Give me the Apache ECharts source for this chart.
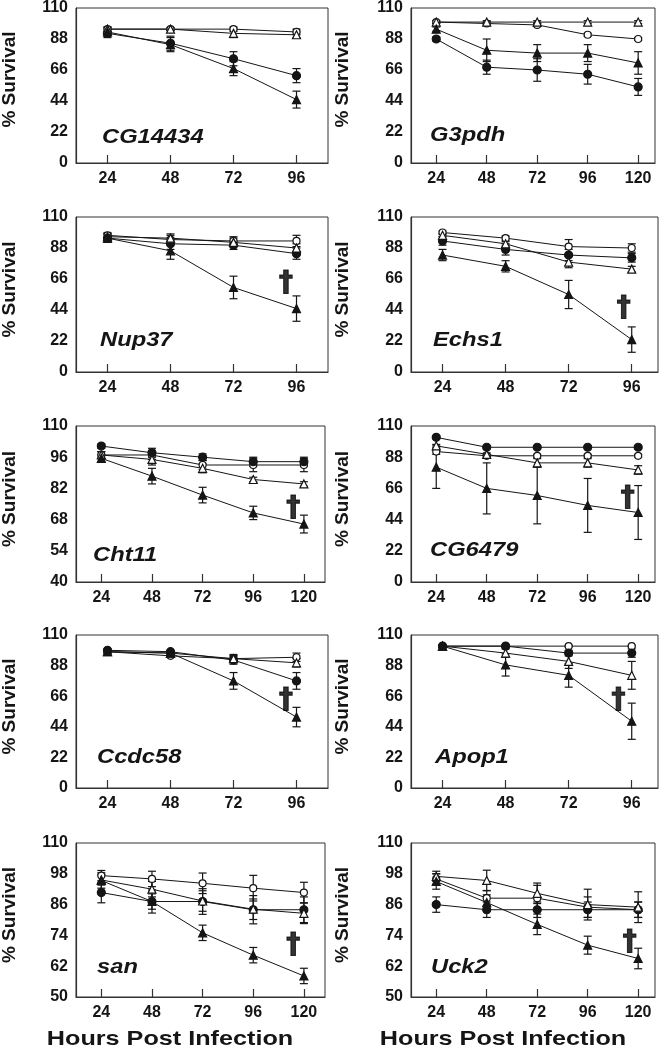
<!DOCTYPE html>
<html><head><meta charset="utf-8">
<script src="https://cdn.jsdelivr.net/npm/echarts@6/dist/echarts.min.js"></script>
<style>html,body{margin:0;padding:0;background:#fff}#c{width:666px;height:1054px}</style>
</head><body><div id="c"></div>
<script>
// ---------- data ----------
const hours4 = [24, 48, 72, 96];
const hours5 = [24, 48, 72, 96, 120];
const yTicksA = [0, 22, 44, 66, 88, 110];
const yTicksB = [40, 54, 68, 82, 96, 110];
const yTicksC = [50, 62, 74, 86, 98, 110];
const genes = ['CG14434','G3pdh','Nup37','Echs1','Cht11','CG6479','Ccdc58','Apop1','san','Uck2'];

// oc = open circle, fc = filled circle, ot = open triangle, ft = filled triangle; *E = error
const cg14434_oc=[95,95,95,93], cg14434_ocE=[1.5,1,1.5,2];
const cg14434_fc=[92,85,74,62], cg14434_fcE=[3,5,5,5];
const cg14434_ot=[95,95,92,91], cg14434_otE=[1.5,1,3,2];
const cg14434_ft=[93,84,67,45], cg14434_ftE=[3,5,5,6];

const g3pdh_oc=[100,99,98,91,88], g3pdh_ocE=[1,1,1,1,1];
const g3pdh_fc=[88,68,66,63,54], g3pdh_fcE=[1.5,5,8,7,6];
const g3pdh_ot=[100,100,100,100,100], g3pdh_otE=[1,1,1,1,1];
const g3pdh_ft=[95,80,78,78,71], g3pdh_ftE=[1.5,8,6,6,8];

const nup37_oc=[97,94,93,93], nup37_ocE=[2,3,3,4];
const nup37_fc=[95,91,90,84], nup37_fcE=[3,4,3,4];
const nup37_ot=[96,95,92,88], nup37_otE=[2,3,3,3];
const nup37_ft=[95,86,60,45], nup37_ftE=[3,6,8,9];

const echs1_oc=[99,95,89,88], echs1_ocE=[1,1.5,5,3];
const echs1_fc=[93,87,83,81], echs1_fcE=[3,4,4,3];
const echs1_ot=[97,91,78,73], echs1_otE=[1,1.5,4,2];
const echs1_ft=[83,75,55,23], echs1_ftE=[4,4,10,9];

const cht11_oc=[97,97,92.5,92.5,92.5], cht11_ocE=[1.5,2,2,3,3];
const cht11_fc=[101,98,96,94,94], cht11_fcE=[1,2,1.5,2,2];
const cht11_ot=[97,95,91,86,84], cht11_otE=[1.5,2.5,2,1,1];
const cht11_ft=[95.5,87.5,79,71,66], cht11_ftE=[1.5,3.5,3.5,3,4];

const cg6479_oc=[92,89,89,89,89], cg6479_ocE=[2,1,1,1,1];
const cg6479_fc=[102,95,95,95,95], cg6479_fcE=[1,1,1,1,1];
const cg6479_ot=[96,90,84,84,79], cg6479_otE=[1,1,3,3,3];
const cg6479_ft=[81,66,61,54,49], cg6479_ftE=[15,18,20,19,19];

const ccdc58_oc=[98,95,93,94], ccdc58_ocE=[1,1,2,3];
const ccdc58_fc=[99,98,92,77], ccdc58_fcE=[1,1,3,6];
const ccdc58_ot=[98,97,93,90], ccdc58_otE=[1,1,3,3];
const ccdc58_ft=[98,97,77,51], ccdc58_ftE=[1,1,6,7];

const apop1_oc=[102,102,102,102], apop1_ocE=[0.5,0.5,0.5,0.5];
const apop1_fc=[102,102,97,97], apop1_fcE=[0.5,1,2,3];
const apop1_ot=[102,97,91,81], apop1_otE=[0.5,3,5,10];
const apop1_ft=[102,88.5,81,48], apop1_ftE=[0.5,8,8.5,13];

const san_oc=[97.3,96,94.3,92.4,90.7], san_ocE=[2,3,4,5,4];
const san_fc=[90.7,87.2,87.2,84,84], san_fcE=[4,4.5,5,5.5,5];
const san_ot=[95.6,92,87.4,84.2,82.6], san_otE=[2,3,4,4,4];
const san_ft=[95.4,87.2,75,66.3,58.2], san_ftE=[3,3,3,3,3];

const uck2_oc=[96,88.5,88.5,85,84], uck2_ocE=[2,3,5,4,3];
const uck2_fc=[86,84,84,84,84], uck2_fcE=[3,3,3,3,3];
const uck2_ot=[97,95.4,90.4,86,85], uck2_otE=[2,4,4,6,6];
const uck2_ft=[95,86.8,78.3,70.2,65], uck2_ftE=[3,3,4,3.5,4];

// dagger annotations [hours, %] (null = none)
const daggers = [null, null, [92,63], [93,45], [115,73], [115,59], [92,63], [91,63], [115,70], [116,71]];

// ---------- layout ----------
const panelData = [
  [hours4, yTicksA, cg14434_oc, cg14434_ocE, cg14434_fc, cg14434_fcE, cg14434_ot, cg14434_otE, cg14434_ft, cg14434_ftE],
  [hours5, yTicksA, g3pdh_oc, g3pdh_ocE, g3pdh_fc, g3pdh_fcE, g3pdh_ot, g3pdh_otE, g3pdh_ft, g3pdh_ftE],
  [hours4, yTicksA, nup37_oc, nup37_ocE, nup37_fc, nup37_fcE, nup37_ot, nup37_otE, nup37_ft, nup37_ftE],
  [hours4, yTicksA, echs1_oc, echs1_ocE, echs1_fc, echs1_fcE, echs1_ot, echs1_otE, echs1_ft, echs1_ftE],
  [hours5, yTicksB, cht11_oc, cht11_ocE, cht11_fc, cht11_fcE, cht11_ot, cht11_otE, cht11_ft, cht11_ftE],
  [hours5, yTicksA, cg6479_oc, cg6479_ocE, cg6479_fc, cg6479_fcE, cg6479_ot, cg6479_otE, cg6479_ft, cg6479_ftE],
  [hours4, yTicksA, ccdc58_oc, ccdc58_ocE, ccdc58_fc, ccdc58_fcE, ccdc58_ot, ccdc58_otE, ccdc58_ft, ccdc58_ftE],
  [hours4, yTicksA, apop1_oc, apop1_ocE, apop1_fc, apop1_fcE, apop1_ot, apop1_otE, apop1_ft, apop1_ftE],
  [hours5, yTicksC, san_oc, san_ocE, san_fc, san_fcE, san_ot, san_otE, san_ft, san_ftE],
  [hours5, yTicksC, uck2_oc, uck2_ocE, uck2_fc, uck2_fcE, uck2_ot, uck2_otE, uck2_ft, uck2_ftE]
];
const rowTop = [6, 217, 426, 635, 843];
const rowH = [157, 155, 156, 153, 154];
const labelPos = [[102,137],[430,135],[100,340],[433,340],[93,555],[430,550],[97,757],[435,757],[97,967],[431,967]];

const INK = '#151515';
const FONT = 'Liberation Sans, Arial, sans-serif';

const grids=[], xAxes=[], yAxes=[], series=[], graphics=[];

function errRender(params, api){
  const x = api.value(0), y = api.value(1), e = api.value(2);
  const hi = api.coord([x, y + e]), lo = api.coord([x, y - e]);
  const w = 4, st = {stroke: INK, lineWidth: 1.2};
  return {type:'group', children:[
    {type:'line', shape:{x1:hi[0], y1:hi[1], x2:lo[0], y2:lo[1]}, style:st},
    {type:'line', shape:{x1:hi[0]-w, y1:hi[1], x2:hi[0]+w, y2:hi[1]}, style:st},
    {type:'line', shape:{x1:lo[0]-w, y1:lo[1], x2:lo[0]+w, y2:lo[1]}, style:st}
  ]};
}

panelData.forEach((pd, i) => {
  const col = i % 2, row = Math.floor(i / 2);
  const hrs = pd[0], yt = pd[1];
  const five = hrs.length === 5;
  let left, width, xMax;
  if (col === 0) { left = 76; width = five ? 249 : 252; xMax = five ? 130 : 108; }
  else { left = 411; width = five ? 244 : 247; xMax = five ? 128 : 106; }
  grids.push({left: left, top: rowTop[row], width: width, height: rowH[row], show: true,
    borderColor: '#333', borderWidth: 1, containLabel: false});
  xAxes.push({type:'value', gridIndex:i, min:12, max:xMax,
    axisLine:{show:true, onZero:false, lineStyle:{color:'#333', width:1.2}},
    axisTick:{show:true, inside:true, length:8, customValues: hrs, lineStyle:{color:'#333', width:1.2}},
    axisLabel:{customValues: hrs, color: INK, fontSize:16, fontWeight:'bold', fontFamily:FONT, margin:8},
    splitLine:{show:false}});
  yAxes.push({type:'value', gridIndex:i, min:yt[0], max:yt[yt.length-1],
    axisLine:{show:true, onZero:false, lineStyle:{color:'#333', width:1.2}},
    axisTick:{show:false, customValues: yt},
    axisLabel:{customValues: yt, color: INK, fontSize:16, fontWeight:'bold', fontFamily:FONT, margin:8},
    splitLine:{show:false}});

  const specs = [
    [pd[2], pd[3], 'circle', '#fff', 7],
    [pd[4], pd[5], 'circle', INK, 8],
    [pd[6], pd[7], 'triangle', '#fff', 8],
    [pd[8], pd[9], 'triangle', INK, 8]
  ];
  specs.forEach(s => {
    series.push({type:'custom', xAxisIndex:i, yAxisIndex:i, renderItem: errRender,
      encode:{x:0, y:1}, silent:true, z:1,
      data: hrs.map((h, k) => [h, s[0][k], s[1][k]])});
  });
  specs.forEach(s => {
    series.push({type:'line', xAxisIndex:i, yAxisIndex:i, z:3,
      data: hrs.map((h, k) => [h, s[0][k]]),
      symbol: s[2], symbolSize: s[4], showSymbol:true,
      lineStyle:{color:INK, width:1},
      itemStyle:{color: s[3], borderColor: INK, borderWidth: 1.2}});
  });
  if (daggers[i]) {
    series.push({type:'scatter', xAxisIndex:i, yAxisIndex:i, z:4, symbolSize:1,
      itemStyle:{color:'rgba(0,0,0,0)'},
      data:[daggers[i]],
      label:{show:true, position:'inside', formatter:'\u2020', color:'#000',
        fontSize:28, fontWeight:'bold', fontFamily:'DejaVu Sans', textBorderColor:'#000', textBorderWidth:1}});
  }
  // gene label
  graphics.push({type:'text', x: labelPos[i][0], y: labelPos[i][1], scaleX: 1.13,
    style:{text: genes[i], font: 'italic bold 21px ' + FONT, fill: INK,
      textAlign:'left', verticalAlign:'middle'}});
  // y axis title
  graphics.push({type:'text', x: col === 0 ? 10 : 343, y: rowTop[row] + rowH[row]/2 - 5,
    rotation: Math.PI/2,
    style:{text:'% Survival', font:'bold 19px ' + FONT, fill: INK,
      textAlign:'center', verticalAlign:'middle'}});
});

graphics.push({type:'text', x:170, y:1039, scaleX:1.2,
  style:{text:'Hours Post Infection', font:'bold 21px ' + FONT, fill:INK, textAlign:'center', verticalAlign:'middle'}});
graphics.push({type:'text', x:503, y:1039, scaleX:1.2,
  style:{text:'Hours Post Infection', font:'bold 21px ' + FONT, fill:INK, textAlign:'center', verticalAlign:'middle'}});

const chart = echarts.init(document.getElementById('c'), null, {renderer:'canvas'});
chart.setOption({
  animation:false,
  backgroundColor:'#fff',
  grid: grids, xAxis: xAxes, yAxis: yAxes, series: series, graphic: graphics
});
</script>
</body></html>
